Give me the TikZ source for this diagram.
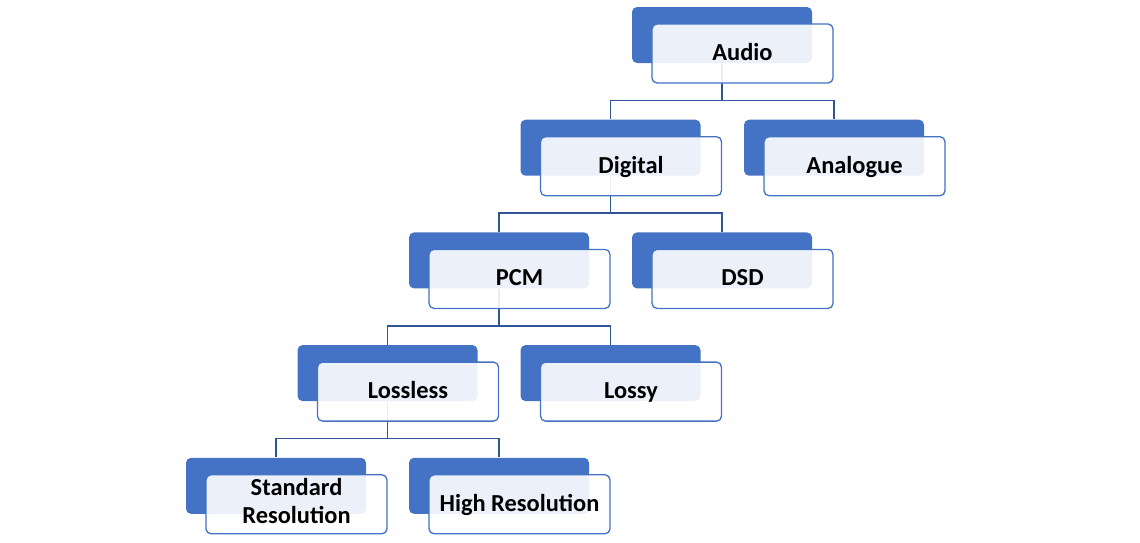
\documentclass[tikz,border=0pt]{standalone}
\usepackage{fontspec}
\setmainfont{Carlito}
\usepackage{xcolor}
\usetikzlibrary{positioning}

\definecolor{tileblue}{HTML}{4472C4}
\definecolor{linkblue}{HTML}{2F5597}

\begin{document}
\begin{tikzpicture}[
			node distance=1.12cm and 0.5cm,
			back/.style={rectangle, rounded corners=0.1cm, fill=tileblue, minimum width=3.6cm, minimum height=1.12cm, inner sep=0pt},
			front/.style={rectangle, rounded corners=0.1cm, draw=tileblue, line width=0.75pt, fill=white, fill opacity=0.9, text opacity=1, align=center, minimum width=3.62cm, minimum height=1.18cm, inner sep=0pt, text height=0.36cm, text depth=0.08cm, font=\fontsize{13.9}{16}\selectfont\bfseries},
			link/.style={draw=linkblue, line width=0.9pt}
			]
			\useasboundingbox (0,0) rectangle (22.8,-10.84);
			
			% Nodes
			\node (audio) [back] at (14.44,-0.70) {};
			\node (digital) [back, below=of audio, xshift=-2.23cm] {};
			\node (analogue) [back, below=of audio, xshift=2.24cm] {};
			\node (pcm) [back, below=of digital, xshift=-2.23cm] {};
			\node (dsd) [back, below=of digital, xshift=2.23cm] {};
			\node (lossless) [back, below=of pcm, xshift=-2.23cm] {};
			\node (lossy) [back, below=of pcm, xshift=2.23cm] {};
			\node (standard) [back, below=of lossless, xshift=-2.23cm] {};
			\node (highres) [back, below=of lossless, xshift=2.23cm] {};
			
			% Connections
			\draw [link] (audio.south) -- ++(0,-0.74) -| (digital.north);
			\draw [link] (audio.south) -- ++(0,-0.74) -| (analogue.north);
			\draw [link] (digital.south) -- ++(0,-0.74) -| (pcm.north);
			\draw [link] (digital.south) -- ++(0,-0.74) -| (dsd.north);
			\draw [link] (pcm.south) -- ++(0,-0.74) -| (lossless.north);
			\draw [link] (pcm.south) -- ++(0,-0.74) -| (lossy.north);
			\draw [link] (lossless.south) -- ++(0,-0.74) -| (standard.north);
			\draw [link] (lossless.south) -- ++(0,-0.74) -| (highres.north);
			
			% Labels
			\node (audio-f) [front] at ([xshift=0.41cm, yshift=-0.37cm] audio) {Audio};
			\node (digital-f) [front] at ([xshift=0.41cm, yshift=-0.37cm] digital) {Digital};
			\node (analogue-f) [front] at ([xshift=0.41cm, yshift=-0.37cm] analogue) {Analogue};
			\node (pcm-f) [front] at ([xshift=0.41cm, yshift=-0.37cm] pcm) {PCM};
			\node (dsd-f) [front] at ([xshift=0.41cm, yshift=-0.37cm] dsd) {DSD};
			\node (lossless-f) [front] at ([xshift=0.41cm, yshift=-0.37cm] lossless) {Lossless};
			\node (lossy-f) [front] at ([xshift=0.41cm, yshift=-0.37cm] lossy) {Lossy};
			\node (standard-f) [front, text height=0.86cm] at ([xshift=0.41cm, yshift=-0.37cm] standard) {Standard\\Resolution};
			\node (highres-f) [front] at ([xshift=0.41cm, yshift=-0.37cm] highres) {High Resolution};
			
		\end{tikzpicture}
\end{document}
